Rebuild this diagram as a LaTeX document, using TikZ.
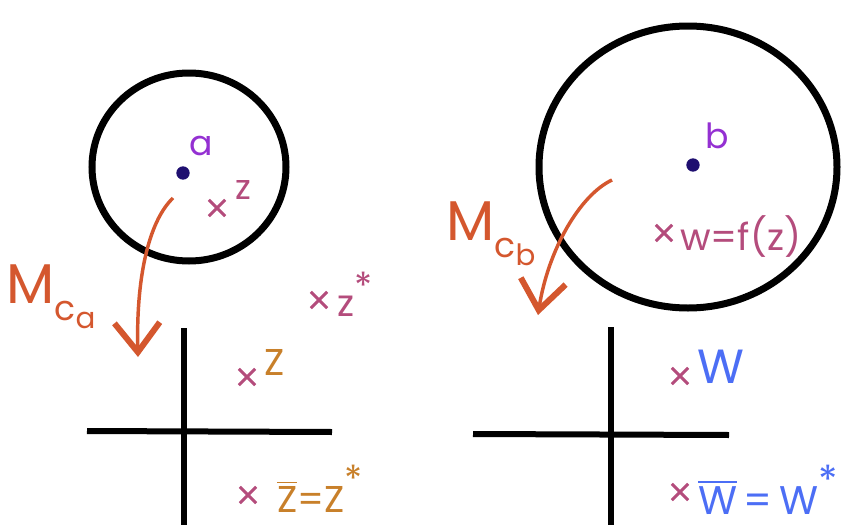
\documentclass[tikz,border=0pt]{standalone}
\usepackage{amsmath}
\usepackage{fontspec}
\setmainfont{Poppins}
\usetikzlibrary{arrows.meta,shapes.geometric,shapes.misc}
\definecolor{mapred}{HTML}{D4572E}
\definecolor{lilac}{HTML}{9430D2}
\definecolor{dotnavy}{HTML}{1F0F70}
\definecolor{plum}{HTML}{B44C7C}
\definecolor{ochre}{HTML}{C8802A}
\definecolor{wblue}{HTML}{4C6EF5}

\begin{document}
\begin{tikzpicture}[x=0.75pt, y=-0.75pt,
  disk/.style={draw, ellipse, line width=5.25pt, inner sep=0pt},
  centre/.style={circle, fill=dotnavy, inner sep=0pt, minimum size=10pt},
  lbl/.style={inner sep=0pt, font=\fontsize{28}{28}\selectfont},
  small/.style={lbl, font=\fontsize{26}{26}\selectfont},
  big/.style={lbl, font=\fontsize{42}{42}\selectfont},
  cross/.style={cross out, draw=plum, line width=2.2pt, inner sep=0pt, minimum size=10pt},
  axis/.style={line width=4.5pt},
  map/.style={-{Straight Barb[length=22pt, width=34pt, line width=4.5pt]}, line width=2.6pt, mapred},
]
  \useasboundingbox (0,0) rectangle (843,525);

  % Left: disk around a
  \node[disk, minimum width=145.5pt, minimum height=141pt] (diskA) at (189,167) {};
  \node[centre] (a) at (183,173) {};
  \node[small, text=lilac] (alabel) at (201,146) {a};
  \node[cross] (xz) at (217,208) {};
  \node[small, text=plum] (z) at (243,190) {z};
  \node[cross] (xzstar) at (319,300) {};
  \node[lbl, text=plum] (zstar) at (355,294) {z\raisebox{0.45em}{*}};

  % Left: plane below
  \coordinate (vtopA) at (184,328);
  \coordinate (vbotA) at (184,525);
  \coordinate (hlA) at (87,431);
  \coordinate (hrA) at (332,432);
  \draw[axis] (vtopA) -- (vbotA);
  \draw[axis] (hlA) -- (hrA);
  \node[cross] (xZ) at (247,377) {};
  \node[lbl, text=ochre] (Z) at (275,362) {Z};
  \node[cross] (xZbar) at (248,495) {};
  \node[lbl, text=ochre] (Zbar) at (320,489) {$\overline{\text{Z}}$=Z\raisebox{0.55em}{*}};

  % Left: map
  \coordinate (startA) at (173,198);
  \coordinate (tipA) at (138,357);
  \draw[map] (startA) .. controls (148,222) and (136,280) .. (tipA);
  \node[big, text=mapred] (MA) at (51,297)
    {M\raisebox{-0.3em}{\fontsize{26}{26}\selectfont c\raisebox{-0.25em}{\fontsize{22}{22}\selectfont a}}};

  % Right: disk around b
  \node[disk, minimum width=223.5pt, minimum height=211.5pt] (diskB) at (688,167) {};
  \node[centre] (b) at (693,165) {};
  \node[small, text=lilac] (blabel) at (717,136) {b};
  \node[cross] (xw) at (664,233) {};
  \node[lbl, text=plum, anchor=west] (w) at (680,237) {w=f(z)};

  % Right: plane below
  \coordinate (vtopB) at (611,327);
  \coordinate (vbotB) at (611,525);
  \coordinate (hlB) at (473,434);
  \coordinate (hrB) at (729,435);
  \draw[axis] (vtopB) -- (vbotB);
  \draw[axis] (hlB) -- (hrB);
  \node[cross] (xW) at (680,376) {};
  \node[lbl, text=wblue, font=\fontsize{36}{36}\selectfont] (W) at (721,367) {W};
  \node[cross] (xWbar) at (680,492) {};
  \node[lbl, text=wblue, anchor=west, font=\fontsize{30}{30}\selectfont] (Wbar) at (698,490)
    {$\overline{\text{W}}$\,=\,W\raisebox{0.5em}{*}};

  % Right: map
  \coordinate (startB) at (612,180);
  \coordinate (tipB) at (538,315);
  \draw[map] (startB) .. controls (580,195) and (548,250) .. (tipB);
  \node[big, text=mapred] (MB) at (491,234)
    {M\raisebox{-0.3em}{\fontsize{26}{26}\selectfont c\raisebox{-0.25em}{\fontsize{22}{22}\selectfont b}}};
\end{tikzpicture}
\end{document}
